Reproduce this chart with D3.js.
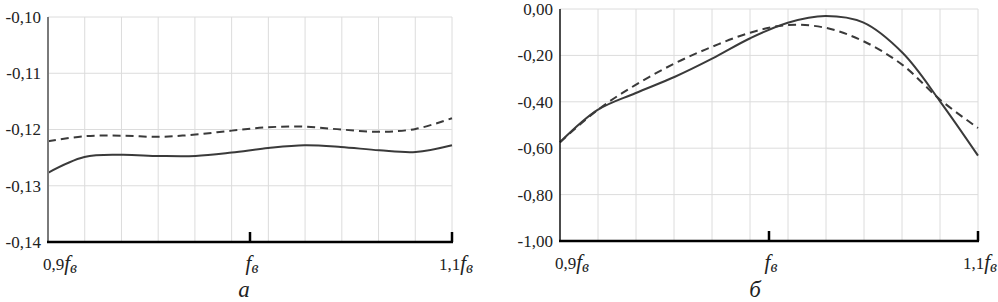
<!DOCTYPE html>
<html>
<head>
<meta charset="utf-8">
<script src="https://cdn.jsdelivr.net/npm/d3@7"></script>
<style>
  body { margin: 0; background: #fff; }
  svg text { font-family: "Liberation Serif", "Times New Roman", serif; }
</style>
</head>
<body>
<svg id="chart" width="998" height="302"></svg>
<script>
// relative frequency (f / f_в) at the category positions
var freqs = [0.900, 0.918, 0.936, 0.955, 0.973, 0.991, 1.009, 1.027, 1.045, 1.064, 1.082, 1.100];

// panel а
var solidA  = [-0.1277, -0.1249, -0.1245, -0.1247, -0.1247, -0.1241, -0.1233, -0.1228, -0.1231, -0.1237, -0.1240, -0.1228];
var dashedA = [-0.1221, -0.1212, -0.1211, -0.1213, -0.1209, -0.1202, -0.1196, -0.1195, -0.1200, -0.1204, -0.1199, -0.1180];
var ticksA  = [-0.10, -0.11, -0.12, -0.13, -0.14];

// panel б
var solidB  = [-0.574, -0.435, -0.363, -0.292, -0.213, -0.126, -0.059, -0.030, -0.058, -0.190, -0.400, -0.632];
var dashedB = [-0.574, -0.435, -0.328, -0.234, -0.162, -0.102, -0.069, -0.081, -0.138, -0.242, -0.392, -0.513];
var ticksB  = [0.00, -0.20, -0.40, -0.60, -0.80, -1.00];

var xTicks = [0.9, 1.0, 1.1];
var xTickPre = ["0,9", "", "1,1"];

var svg = d3.select("#chart");
var fmt = function (v) { return d3.format(".2f")(v).replace(".", ",").replace("−", "-"); };

function panel(cfg) {
    var x = d3.scaleLinear().domain([0.9, 1.1]).range([cfg.left, cfg.right]);
    var y = d3.scaleLinear().domain([cfg.ticks[cfg.ticks.length - 1], cfg.ticks[0]]).range([cfg.bottom, cfg.top]);
    var g = svg.append("g");

    // vertical grid (11 category intervals)
    var vgrid = d3.range(1, 12).map(function (i) { return 0.9 + i * 0.2 / 11; });
    g.selectAll(".vg").data(vgrid).enter().append("line")
        .attr("x1", function (d) { return x(d); }).attr("x2", function (d) { return x(d); })
        .attr("y1", cfg.top).attr("y2", cfg.bottom)
        .attr("stroke", "#dcdcdc").attr("stroke-width", 1);

    // horizontal grid
    g.selectAll(".hg").data(cfg.ticks.slice(0, -1)).enter().append("line")
        .attr("x1", cfg.left).attr("x2", cfg.right)
        .attr("y1", function (d) { return y(d); }).attr("y2", function (d) { return y(d); })
        .attr("stroke", "#dcdcdc").attr("stroke-width", 1);

    // y labels
    g.selectAll(".yl").data(cfg.ticks).enter().append("text")
        .attr("x", cfg.left - 7).attr("y", function (d) { return y(d); })
        .attr("dy", "0.35em").attr("text-anchor", "end")
        .style("font-size", "17px").attr("fill", "#222")
        .text(fmt);

    var line = d3.line()
        .x(function (d, i) { return x(freqs[i]); })
        .y(function (d) { return y(d); })
        .curve(d3.curveCatmullRom.alpha(0.5));

    g.append("path").datum(cfg.dashed).attr("d", line)
        .attr("fill", "none").attr("stroke", "#3a3a3a").attr("stroke-width", 2)
        .attr("stroke-dasharray", "8,5");
    g.append("path").datum(cfg.solid).attr("d", line)
        .attr("fill", "none").attr("stroke", "#3a3a3a").attr("stroke-width", 2);

    // axes
    g.append("line")
        .attr("x1", cfg.left).attr("x2", cfg.left).attr("y1", cfg.top).attr("y2", cfg.bottom)
        .attr("stroke", cfg.yAxisColor).attr("stroke-width", cfg.yAxisWidth);
    g.append("line")
        .attr("x1", cfg.left - 1).attr("x2", cfg.right + 1).attr("y1", cfg.bottom).attr("y2", cfg.bottom)
        .attr("stroke", "#000").attr("stroke-width", 2.5);
    g.selectAll(".xt").data(xTicks.slice(1)).enter().append("line")
        .attr("x1", function (d) { return x(d); }).attr("x2", function (d) { return x(d); })
        .attr("y1", cfg.bottom - 10).attr("y2", cfg.bottom)
        .attr("stroke", "#000").attr("stroke-width", 2.5);

    // x labels
    var xl = g.selectAll(".xl").data(xTicks).enter().append("text")
        .attr("x", function (d, i) { return x(d) + cfg.xLabelShift[i]; })
        .attr("y", cfg.bottom + 28)
        .attr("text-anchor", "middle")
        .style("font-size", "17px").attr("fill", "#222");
    xl.append("tspan").text(function (d, i) { return xTickPre[i]; });
    xl.append("tspan").style("font-style", "italic").style("font-size", "21px").text("f");
    xl.append("tspan").style("font-style", "italic").style("font-size", "16px").attr("dy", 3).text("в");

    g.append("text")
        .attr("x", cfg.captionX).attr("y", 297)
        .attr("text-anchor", "middle").style("font-style", "italic")
        .style("font-size", "23px").attr("fill", "#222")
        .text(cfg.caption);
}

panel({
    left: 48, right: 452, top: 17, bottom: 242,
    ticks: ticksA, solid: solidA, dashed: dashedA,
    yAxisColor: "#7a7a7a", yAxisWidth: 2,
    xLabelShift: [12, 2, 4],
    caption: "а", captionX: 244
});

panel({
    left: 560, right: 978, top: 9, bottom: 241,
    ticks: ticksB, solid: solidB, dashed: dashedB,
    yAxisColor: "#111", yAxisWidth: 1.5,
    xLabelShift: [12, 2, 2],
    caption: "б", captionX: 755
});
</script>
</body>
</html>
